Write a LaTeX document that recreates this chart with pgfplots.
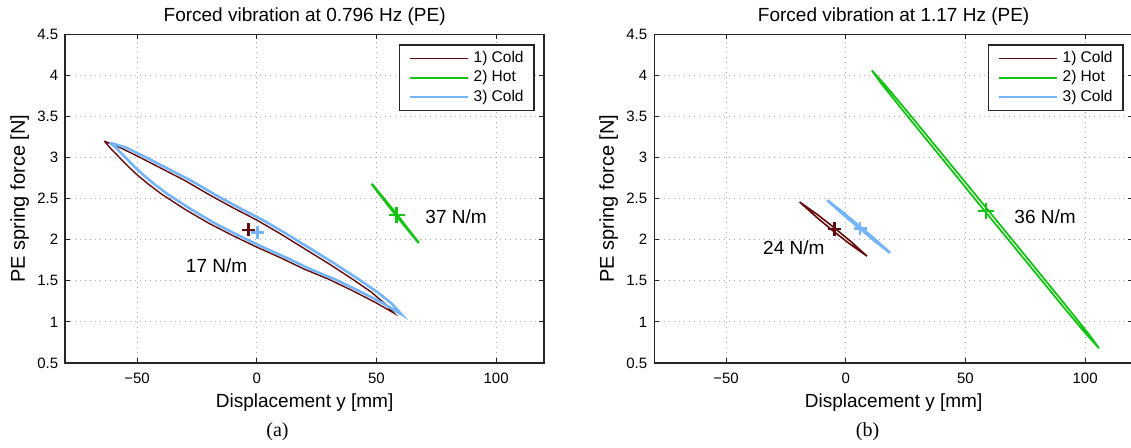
\documentclass[border=0pt]{standalone}
\usepackage{pgfplots}
\pgfplotsset{compat=1.18}
\usepackage{fontspec}
\setmainfont{Liberation Sans}
\newfontfamily\capfont{Liberation Serif}

\definecolor{cbrown}{RGB}{100,10,10}
\definecolor{cgreen}{RGB}{20,195,20}
\definecolor{cblue}{RGB}{115,180,250}

\pgfplotsset{
  myax/.style={
    scale only axis, width=239.35pt, height=164.35pt,
    xmin=-80, xmax=120, ymin=0.5, ymax=4.5,
    xtick={-50,0,50,100}, xticklabels={−50,0,50,100},
    ytick={0.5,1,1.5,2,2.5,3,3.5,4,4.5},
    yticklabels={0.5,1,1.5,2,2.5,3,3.5,4,4.5},
    tick align=inside, major tick length=2.5pt,
    tick style={black!85, line width=0.5pt},
    axis line style={black!85, line width=0.8pt},
    grid=major,
    major grid style={gray!70, line width=0.5pt, dash pattern=on 0.5pt off 2pt},
    tick label style={font=\fontsize{7.5}{9}\selectfont},
    xticklabel style={anchor=base, yshift=-10pt},
    label style={font=\fontsize{9.5}{11}\selectfont},
    xlabel style={at={(axis description cs:0.5,0)}, anchor=base, yshift=-22pt},
    every axis y label/.style={at={(axis description cs:-0.0955,0.5)}, rotate=90, anchor=center},
    every axis title/.style={at={(0.5,1)}, anchor=base, yshift=6.3pt, font=\fontsize{9.5}{11}\selectfont},
    xlabel={Displacement y [mm]},
    ylabel={PE spring force [N]},
    legend cell align=left,
    legend image code/.code={\draw[#1] (0pt,0pt) -- (29pt,0pt);},
    legend style={at={(1,1)}, anchor=north east, xshift=-4.5pt, yshift=-5pt,
      draw=black!85, line width=0.8pt, fill=white,
      font=\fontsize{7.75}{9}\selectfont,
      inner xsep=4.5pt, inner ysep=2.2pt, row sep=0.6pt,
      nodes={inner sep=0.8pt, text height=5.8pt, text depth=1.6pt},
      /tikz/column sep=1.4pt},
  }
}

\begin{document}
\begin{tikzpicture}
% ---------------- (a) ----------------
\begin{axis}[myax, at={(32.65pt,42pt)}, anchor=south west,
  title={Forced vibration at 0.796 Hz (PE)}]
\addplot[cbrown, line width=0.7pt] coordinates {
(-63.7,3.20) (-57,3.12) (-50,3.02) (-40,2.87) (-30,2.72) (-20,2.55) (-10,2.39)
(0,2.24) (10,2.07) (20,1.89) (30,1.71) (40,1.52) (48,1.36) (54,1.21) (57.4,1.106)
(50,1.23) (40,1.38) (30,1.52) (20,1.64) (10,1.78) (0,1.91) (-10,2.05) (-20,2.20)
(-30,2.37) (-40,2.56) (-45,2.67) (-50,2.79) (-54,2.90) (-58,3.02) (-61,3.11) (-63.7,3.20)};
\addlegendentry{1) Cold}
\addplot[cgreen, line width=1.2pt] coordinates {
(48,2.68) (57.85,2.33) (67.7,1.96) (57.85,2.31) (48,2.68)};
\addlegendentry{2) Hot}
\addplot[cblue, line width=1.3pt] coordinates {
(-61.3,3.18) (-54.5,3.12) (-47.5,3.02) (-37.5,2.87) (-27.5,2.72) (-17.5,2.55) (-7.5,2.39)
(2.5,2.24) (12.5,2.07) (22.5,1.89) (32.5,1.71) (42.5,1.52) (50.5,1.36) (56.5,1.22) (60.5,1.09)
(52.5,1.23) (42.5,1.38) (32.5,1.52) (22.5,1.64) (12.5,1.78) (2.5,1.91) (-7.5,2.05) (-17.5,2.20)
(-27.5,2.37) (-37.5,2.56) (-42.5,2.67) (-47.5,2.79) (-51.5,2.90) (-55.5,3.02) (-58.5,3.11) (-61.3,3.18)};
\addlegendentry{3) Cold}
\addplot[forget plot, only marks, mark=+, mark size=3.3pt, line width=1.3pt, cbrown] coordinates {(-3.5,2.12)};
\addplot[forget plot, only marks, mark=+, mark size=3.3pt, line width=1.3pt, cblue] coordinates {(0.2,2.09)};
\addplot[forget plot, only marks, mark=+, mark size=4pt, line width=1.4pt, cgreen] coordinates {(58.4,2.30)};
\node[font=\fontsize{9.5}{11}\selectfont, anchor=center] at (axis cs:-16.8,1.69) {17 N/m};
\node[font=\fontsize{9.5}{11}\selectfont, anchor=west, inner sep=0pt] at (axis cs:70.3,2.28) {37 N/m};
\end{axis}
% ---------------- (b) ----------------
\begin{axis}[myax, at={(327.15pt,42pt)}, anchor=south west,
  title={Forced vibration at 1.17 Hz (PE)}]
\addplot[cbrown, line width=0.8pt] coordinates {
(-19.3,2.46) (-12.25,2.315) (-5.2,2.155) (1.85,1.985) (8.9,1.80)
(1.85,1.945) (-5.2,2.105) (-12.25,2.275) (-19.3,2.46)};
\addlegendentry{1) Cold}
\addplot[cgreen, line width=0.9pt] coordinates {
(10.9,4.06) (16.2,3.891) (25.9,3.553) (59.2,2.37) (92.3,1.187) (101.6,0.849) (105.8,0.68)
(100.5,0.849) (90.8,1.187) (57.5,2.37) (24.4,3.553) (15.1,3.891) (10.9,4.06)};
\addlegendentry{2) Hot}
\addplot[cblue, line width=1.3pt] coordinates {
(-7.7,2.48) (-1.15,2.33) (5.4,2.17) (11.95,2.01) (18.5,1.84)
(11.95,1.99) (5.4,2.15) (-1.15,2.31) (-7.7,2.48)};
\addlegendentry{3) Cold}
\addplot[forget plot, only marks, mark=+, mark size=3.3pt, line width=1.3pt, cbrown] coordinates {(-4.8,2.13)};
\addplot[forget plot, only marks, mark=+, mark size=3.3pt, line width=1.3pt, cblue] coordinates {(6.0,2.14)};
\addplot[forget plot, only marks, mark=+, mark size=4pt, line width=1.4pt, cgreen] coordinates {(58.6,2.35)};
\node[font=\fontsize{9.5}{11}\selectfont, anchor=center] at (axis cs:-21.7,1.90) {24 N/m};
\node[font=\fontsize{9.5}{11}\selectfont, anchor=west, inner sep=0pt] at (axis cs:70.3,2.28) {36 N/m};
\end{axis}
\node[font=\capfont\fontsize{10}{12}\selectfont, anchor=base] at (138.75pt,5.5pt) {(a)};
\node[font=\capfont\fontsize{10}{12}\selectfont, anchor=base] at (433.75pt,5.5pt) {(b)};
\pgfresetboundingbox
\useasboundingbox (0,0) rectangle (565.5pt,223.5pt);
\end{tikzpicture}
\end{document}
